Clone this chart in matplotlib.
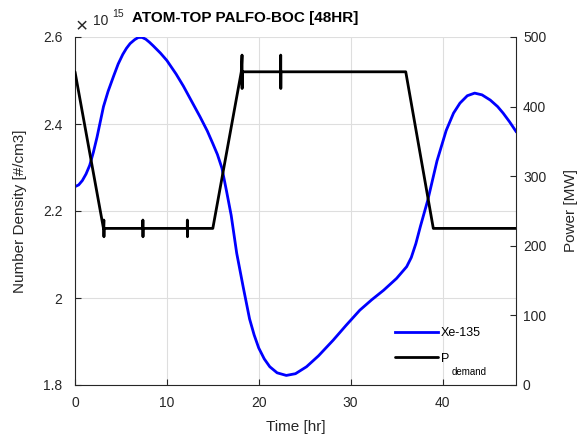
import numpy as np
import matplotlib.pyplot as plt
from matplotlib.ticker import FormatStrFormatter

plt.rcParams['font.family'] = ['Liberation Sans', 'DejaVu Sans']

# Xe-135 number density, units of 1e15 #/cm3
xe_t = [0.0, 0.4, 0.8, 1.2, 1.6, 2.0, 2.4, 2.8, 3.1, 3.6, 4.2, 4.7, 5.2, 5.6,
        6.0, 6.5, 6.9, 7.3, 7.7, 8.1, 8.5, 9.3, 10.0,
        11.0, 11.8, 12.7, 13.6, 14.4, 15.0, 15.5, 16.0, 16.5, 17.0, 17.6, 18.3,
        19.0, 19.5, 20.0, 20.6, 21.2, 22.0, 23.0, 24.0, 25.2, 26.5, 28.1, 29.5,
        31.0, 32.3, 33.6, 35.0, 36.1, 36.6, 37.1, 37.6, 38.4, 39.4, 40.4, 41.2,
        41.9, 42.7, 43.5, 44.3, 45.2, 46.0, 46.6, 47.3, 48.0]
xe_n = [2.256, 2.260, 2.270, 2.285, 2.305, 2.335, 2.370, 2.410, 2.440, 2.475,
        2.510, 2.538, 2.560, 2.574, 2.585, 2.594, 2.599, 2.599,
        2.595, 2.588, 2.580, 2.563, 2.546, 2.515, 2.487, 2.452, 2.417, 2.384,
        2.355, 2.330, 2.298, 2.245, 2.190, 2.103, 2.026, 1.952, 1.915, 1.885,
        1.860, 1.842, 1.828, 1.822, 1.826, 1.842, 1.867, 1.903, 1.937, 1.972,
        1.996, 2.018, 2.045, 2.072, 2.093, 2.125, 2.165, 2.225, 2.315, 2.385,
        2.425, 2.448, 2.465, 2.471, 2.467, 2.455, 2.440, 2.425, 2.405, 2.383]

# demand power [MW], each short control blip goes up then down and back
pwr_t = [0.0, 3.1, 3.14, 3.15, 3.16,
         7.38, 7.39, 7.40, 7.41,
         12.22, 12.23, 12.24, 12.25,
         15.0, 18.1, 18.18, 18.19, 18.20,
         22.38, 22.39, 22.40, 22.41,
         36.0, 39.0, 48.0]
pwr_mw = [450, 225, 237, 213, 225,
          225, 237, 213, 225,
          225, 237, 213, 225,
          225, 450, 474, 426, 450,
          450, 474, 426, 450,
          450, 225, 225]

x_ticks = [0, 10, 20, 30, 40]
n_ticks = [1.8, 2.0, 2.2, 2.4, 2.6]
p_ticks = [0, 100, 200, 300, 400, 500]

dark = '#262626'
fig = plt.figure(figsize=(5.79, 4.41), dpi=100)
ax = fig.add_axes([75 / 579, 56 / 441, 441 / 579, 348 / 441])

l1, = ax.plot(xe_t, xe_n, color='#0000ff', lw=2.0, label='Xe-135',
              solid_joinstyle='round')
ax.set_xlim(0, 48)
ax.set_ylim(1.8, 2.6)
ax.set_xticks(x_ticks)
ax.set_yticks(n_ticks)
ax.yaxis.set_major_formatter(FormatStrFormatter('%g'))
ax.grid(True, color='#dedede', lw=0.8)
ax.set_axisbelow(True)
ax.tick_params(direction='in', length=4, width=0.8, colors=dark, labelsize=10)
ax.tick_params(axis='y', pad=9)
ax.tick_params(axis='x', pad=8)
for s in ['top', 'right']:
    ax.spines[s].set_visible(False)
for s in ['left', 'bottom']:
    ax.spines[s].set_color(dark)
    ax.spines[s].set_linewidth(0.8)

ax2 = ax.twinx()
l2, = ax2.plot(pwr_t, pwr_mw, color='k', lw=2.0, solid_joinstyle='round',
               solid_capstyle='round', label='P')
ax2.set_ylim(0, 500)
ax2.set_yticks(p_ticks)
ax2.tick_params(direction='in', length=4, width=0.8, colors=dark, labelsize=10, pad=5)
for s in ['top', 'left', 'bottom']:
    ax2.spines[s].set_visible(False)
ax2.spines['right'].set_color(dark)
ax2.spines['right'].set_linewidth(0.8)

ax.set_xlabel('Time [hr]', fontsize=11, color=dark)
ax.xaxis.set_label_coords(0.5, -0.1)
fig.text(20 / 579, (441 - 211) / 441, 'Number Density [#/cm3]', rotation=90,
         fontsize=11, color=dark, ha='center', va='center')
fig.text(571 / 579, (441 - 211) / 441, 'Power [MW]', rotation=90,
         fontsize=11, color=dark, ha='center', va='center')

# exponent and title
fig.text(76 / 579, (441 - 32) / 441, '\u00d7', fontsize=15, color=dark)
fig.text(93 / 579, (441 - 25) / 441, '10', fontsize=10, color=dark)
fig.text(112 / 579, (441 - 17) / 441, '15', fontsize=7.5, color=dark)
fig.text(132 / 579, (441 - 22) / 441, 'ATOM-TOP PALFO-BOC [48HR]',
         fontsize=11, fontweight='bold', color='k')

leg = ax2.legend([l1, l2], ['Xe-135', 'P'], loc='upper left',
                 bbox_to_anchor=(395 / 579, (441 - 327) / 441),
                 bbox_transform=fig.transFigure, frameon=False, fontsize=9,
                 handlelength=3.4, handletextpad=0.25, borderpad=0,
                 borderaxespad=0, labelspacing=1.1)
fig.text(452 / 579, (441 - 375) / 441, 'demand', fontsize=7, color='k')

fig.savefig('out.png', dpi=100)
